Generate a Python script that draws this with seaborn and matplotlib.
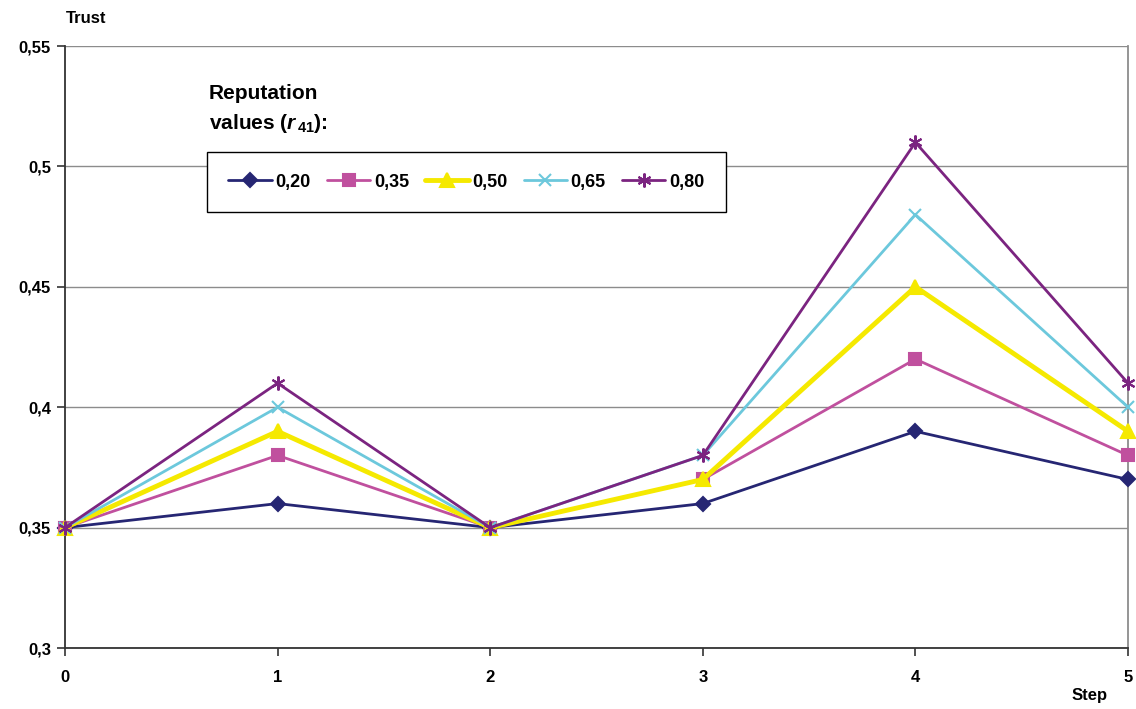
import pandas as pd
import seaborn as sns
import matplotlib.pyplot as plt
from matplotlib.ticker import FuncFormatter

# data
steps = [0, 1, 2, 3, 4, 5]
rep_labels = ["0,20", "0,35", "0,50", "0,65", "0,80"]
trust_020 = [0.35, 0.36, 0.35, 0.36, 0.39, 0.37]
trust_035 = [0.35, 0.38, 0.35, 0.37, 0.42, 0.38]
trust_050 = [0.35, 0.39, 0.35, 0.37, 0.45, 0.39]
trust_065 = [0.35, 0.40, 0.35, 0.38, 0.48, 0.40]
trust_080 = [0.35, 0.41, 0.35, 0.38, 0.51, 0.41]

series = [trust_020, trust_035, trust_050, trust_065, trust_080]
colors = ["#262673", "#C0509E", "#F5E900", "#6CC8DC", "#7B2480"]
markers = ["D", "s", "^", "x", (6, 2, 0)]
widths = [2.0, 2.0, 3.5, 2.0, 2.0]
msizes = [7, 8, 10, 9, 10]

sns.set_style("white")
plt.rcParams["font.family"] = ["Liberation Sans", "DejaVu Sans"]
plt.rcParams["font.weight"] = "bold"
plt.rcParams["text.color"] = "black"
plt.rcParams["xtick.color"] = "black"
plt.rcParams["ytick.color"] = "black"
plt.rcParams["mathtext.fontset"] = "custom"
plt.rcParams["mathtext.rm"] = "Liberation Sans:bold"
plt.rcParams["mathtext.it"] = "Liberation Sans:bold:italic"
plt.rcParams["mathtext.bf"] = "Liberation Sans:bold"


def comma_fmt(v, pos):
    return ("%g" % round(v, 2)).replace(".", ",")


fig = plt.figure(figsize=(11.36, 7.09), dpi=100)
ax = fig.add_axes([0.0572, 0.086, 0.9358, 0.849])

for vals, lab, c, m, lw, ms in zip(series, rep_labels, colors, markers,
                                   widths, msizes):
    df = pd.DataFrame({"Step": steps, "Trust": vals})
    sns.lineplot(data=df, x="Step", y="Trust", color=c, marker=m,
                 linewidth=lw, markersize=ms, markeredgecolor=c,
                 markeredgewidth=1.5, label=lab, ax=ax, clip_on=False,
                 zorder=3)

ax.set_xlim(0, 5)
ax.set_ylim(0.3, 0.55)
ax.set_xticks(steps)
ax.set_yticks([0.3, 0.35, 0.4, 0.45, 0.5, 0.55])
ax.yaxis.set_major_formatter(FuncFormatter(comma_fmt))
ax.grid(axis="y", color="#8c8c8c", linewidth=1.0)
ax.grid(axis="x", visible=False)
ax.tick_params(axis="both", which="major", length=6, width=1.2,
               direction="out", labelsize=12, pad=4, bottom=True, left=True,
               color="#333333", labelcolor="black")
ax.tick_params(axis="x", pad=10)
for lbl in ax.get_xticklabels() + ax.get_yticklabels():
    lbl.set_fontweight("bold")

for s in ["left", "bottom"]:
    ax.spines[s].set_color("#333333")
    ax.spines[s].set_linewidth(1.3)
ax.spines["top"].set_visible(False)
ax.spines["right"].set_color("#8c8c8c")
ax.spines["right"].set_linewidth(1.3)

ax.set_xlabel("")
ax.set_ylabel("")
fig.text(0.058, 0.963, "Trust", fontsize=12, fontweight="bold",
         ha="left", va="bottom")
fig.text(0.975, 0.008, "Step", fontsize=12, fontweight="bold",
         ha="right", va="bottom")

fig.text(0.184, 0.855, "Reputation", fontsize=15, fontweight="bold",
         ha="left", va="bottom")
fig.text(0.184, 0.81, r"values ($\mathit{r}_{\,\mathrm{41}}$):",
         fontsize=15, fontweight="bold", ha="left", va="bottom")

leg = ax.legend(loc="center left", ncol=5,
                bbox_to_anchor=(0.182, 0.743), bbox_transform=fig.transFigure,
                frameon=True, fancybox=False, edgecolor="black",
                framealpha=1.0, fontsize=13, handlelength=2.4,
                columnspacing=0.9, handletextpad=0.2, borderpad=1.2,
                borderaxespad=0)
leg.get_frame().set_linewidth(1.0)
for t in leg.get_texts():
    t.set_fontweight("bold")
    t.set_color("black")

fig.savefig("out.png", dpi=100)
